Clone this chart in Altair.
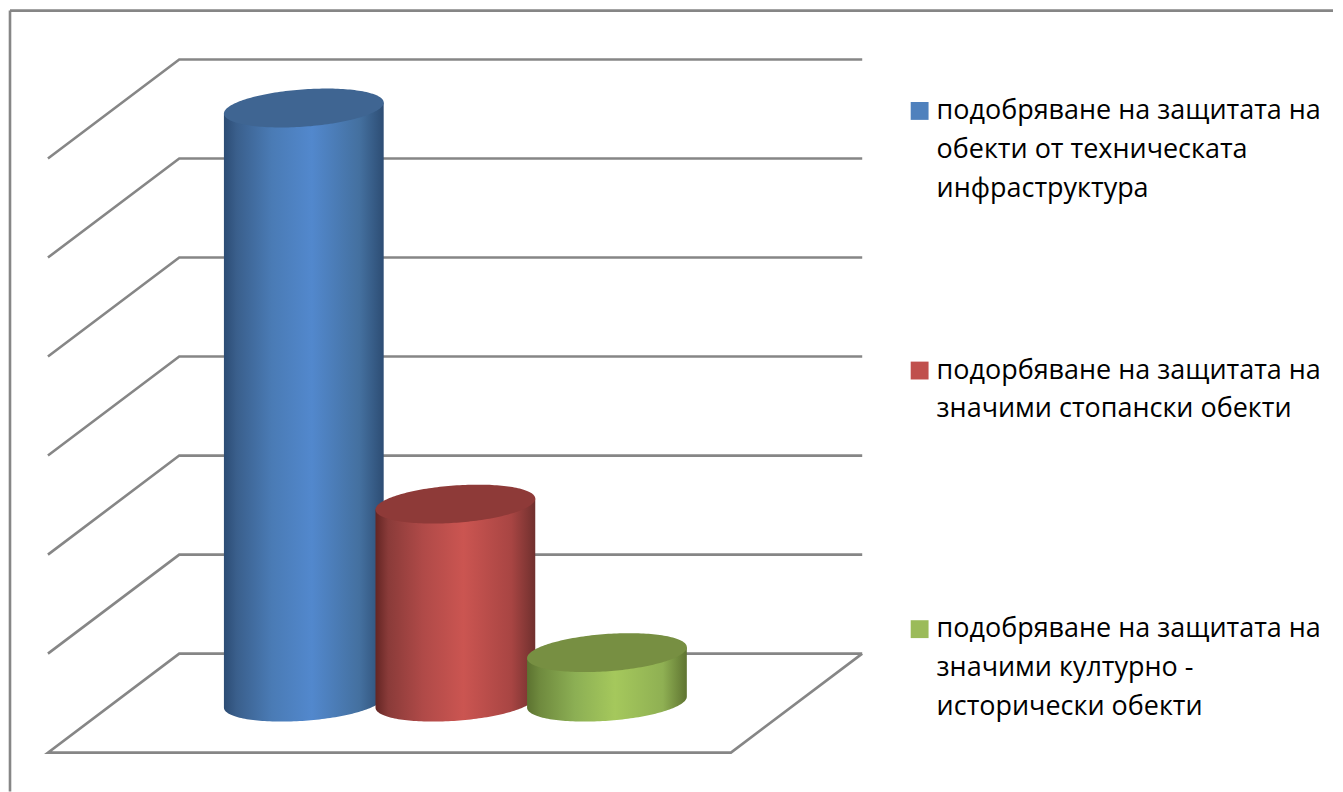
import numpy as np
import pandas as pd
import altair as alt

# ---- chart values -------------------------------------------------------
SERIES_VALUES = [6.0, 2.0, 0.5]
SERIES_LINES = [
    ["подобряване на защитата на", "обекти от техническата", "инфраструктура"],
    ["подорбяване на защитата на", "значими стопански обекти"],
    ["подобряване на защитата на", "значими културно -", "исторически обекти"],
]
GRID_LEVELS = [0, 1, 2, 3, 4, 5, 6]

# ---- styles -------------------------------------------------------------
SWATCH = ["#4f81bd", "#c0504d", "#9bbb59"]
CAP = ["#3f6592", "#8e3a38", "#778f42"]
STOPS = [
    [(0, "#2c4c74"), (0.08, "#3a5f8c"), (0.3, "#4a7bb5"), (0.55, "#5288cd"), (0.85, "#44709f"), (1, "#2d4d74")],
    [(0, "#632523"), (0.08, "#8a3b39"), (0.3, "#b04a48"), (0.55, "#cb5551"), (0.85, "#a84543"), (1, "#70302e")],
    [(0, "#5c7230"), (0.08, "#6f8a3e"), (0.3, "#8caf54"), (0.55, "#a5c85c"), (0.85, "#8fb053"), (1, "#5f7431")],
]
GRID = "#868686"
FONT = "Open Sans"
FONT_SIZE = 27

# ---- layout -------------------------------------------------------------
W, H = 1327, 784
UNIT = 99.17          # pixels per value unit
BACK_FLOOR = 646      # pixels from top of plot to value 0 on back wall
FRONT_LEFT = 40
SPAN = 684
DEPTH_X = 131.5
SLOT_START = 190.5
SLOT_STEP = 151.8
A, B, SHEAR = 80, 18.7, -5.5
DEPTH_MID = 0.5

x_scale = alt.Scale(domain=[0, W], range=[0, W])
y_scale = alt.Scale(domain=[(BACK_FLOOR - H) / UNIT, BACK_FLOOR / UNIT], range=[H, 0])
X = alt.X("x:Q", scale=x_scale, axis=None)
Y = alt.Y("y:Q", scale=y_scale, axis=None)
Y2 = alt.Y2("y2:Q")


def project(level, s, d):
    return FRONT_LEFT + s * SPAN + d * DEPTH_X, level - (1 - d)


grid_rows = []
for lv in GRID_LEVELS:
    path = [(0, 0), (0, 1), (1, 1)]
    if lv == 0:
        path = [(1, 1), (0, 1), (0, 0), (1, 0), (1, 1)]
    for o, (s, d) in enumerate(path):
        px, py = project(lv, s, d)
        grid_rows.append({"level": lv, "o": o, "x": px, "y": py})
grid = alt.Chart(pd.DataFrame(grid_rows)).mark_line(color=GRID, strokeWidth=2.6, strokeJoin="miter").encode(
    x=X, y=Y, detail="level:N", order="o:Q"
)

theta = np.linspace(0, np.pi, 90)
layers = [grid]
for i, v in enumerate(SERIES_VALUES):
    cx = FRONT_LEFT + SLOT_START + DEPTH_MID * DEPTH_X + i * SLOT_STEP
    t = np.cos(theta)
    px = cx + A * t
    base = -DEPTH_MID + 0.01
    slant = -SHEAR * t / UNIT
    round_ = B * np.sin(theta) / UNIT
    body = pd.DataFrame({"x": px, "y": base + slant - round_, "y2": base + v + slant})
    cap = pd.DataFrame({"x": px, "y": base + v + slant - round_, "y2": base + v + slant + round_})
    grad = alt.LinearGradient(
        gradient="linear", x1=0, x2=1, y1=0, y2=0,
        stops=[alt.GradientStop(offset=o, color=c) for o, c in STOPS[i]],
    )
    layers.append(alt.Chart(body).mark_area(color=grad).encode(x=X, y=Y, y2=Y2))
    layers.append(alt.Chart(cap).mark_area(color=CAP[i]).encode(x=X, y=Y, y2=Y2))

# frame
layers.append(alt.Chart(pd.DataFrame({"a": [0]})).mark_rule(color=GRID, strokeWidth=2.6).encode(
    x=alt.value(2), x2=alt.value(W), y=alt.value(2)))
layers.append(alt.Chart(pd.DataFrame({"a": [0]})).mark_rule(color=GRID, strokeWidth=2.6).encode(
    x=alt.value(2), y=alt.value(2), y2=alt.value(H)))

# legend
LEGEND_FIRST = [102.5, 362.5, 621.5]
LINE_STEP = 39
text_rows, swatch_rows = [], []
for i, lines in enumerate(SERIES_LINES):
    swatch_rows.append({"px": 913, "py": LEGEND_FIRST[i], "c": SWATCH[i]})
    for j, line in enumerate(lines):
        text_rows.append({"px": 930, "py": LEGEND_FIRST[i] + j * LINE_STEP, "t": line})

layers.append(alt.Chart(pd.DataFrame(swatch_rows)).mark_square(size=320, opacity=1).encode(
    x=alt.X("px:Q", scale=None), y=alt.Y("py:Q", scale=None), color=alt.Color("c:N", scale=None)))
layers.append(alt.Chart(pd.DataFrame(text_rows)).mark_text(
    align="left", baseline="middle", font=FONT, fontSize=FONT_SIZE, color="#000000"
).encode(x=alt.X("px:Q", scale=None), y=alt.Y("py:Q", scale=None), text="t:N"))

chart = alt.layer(*layers).resolve_scale(x="independent", y="independent").properties(
    width=W, height=H, padding=0, background="white"
).configure_view(stroke=None)

chart.save("out.html", embed_options={"renderer": "svg", "actions": False})
